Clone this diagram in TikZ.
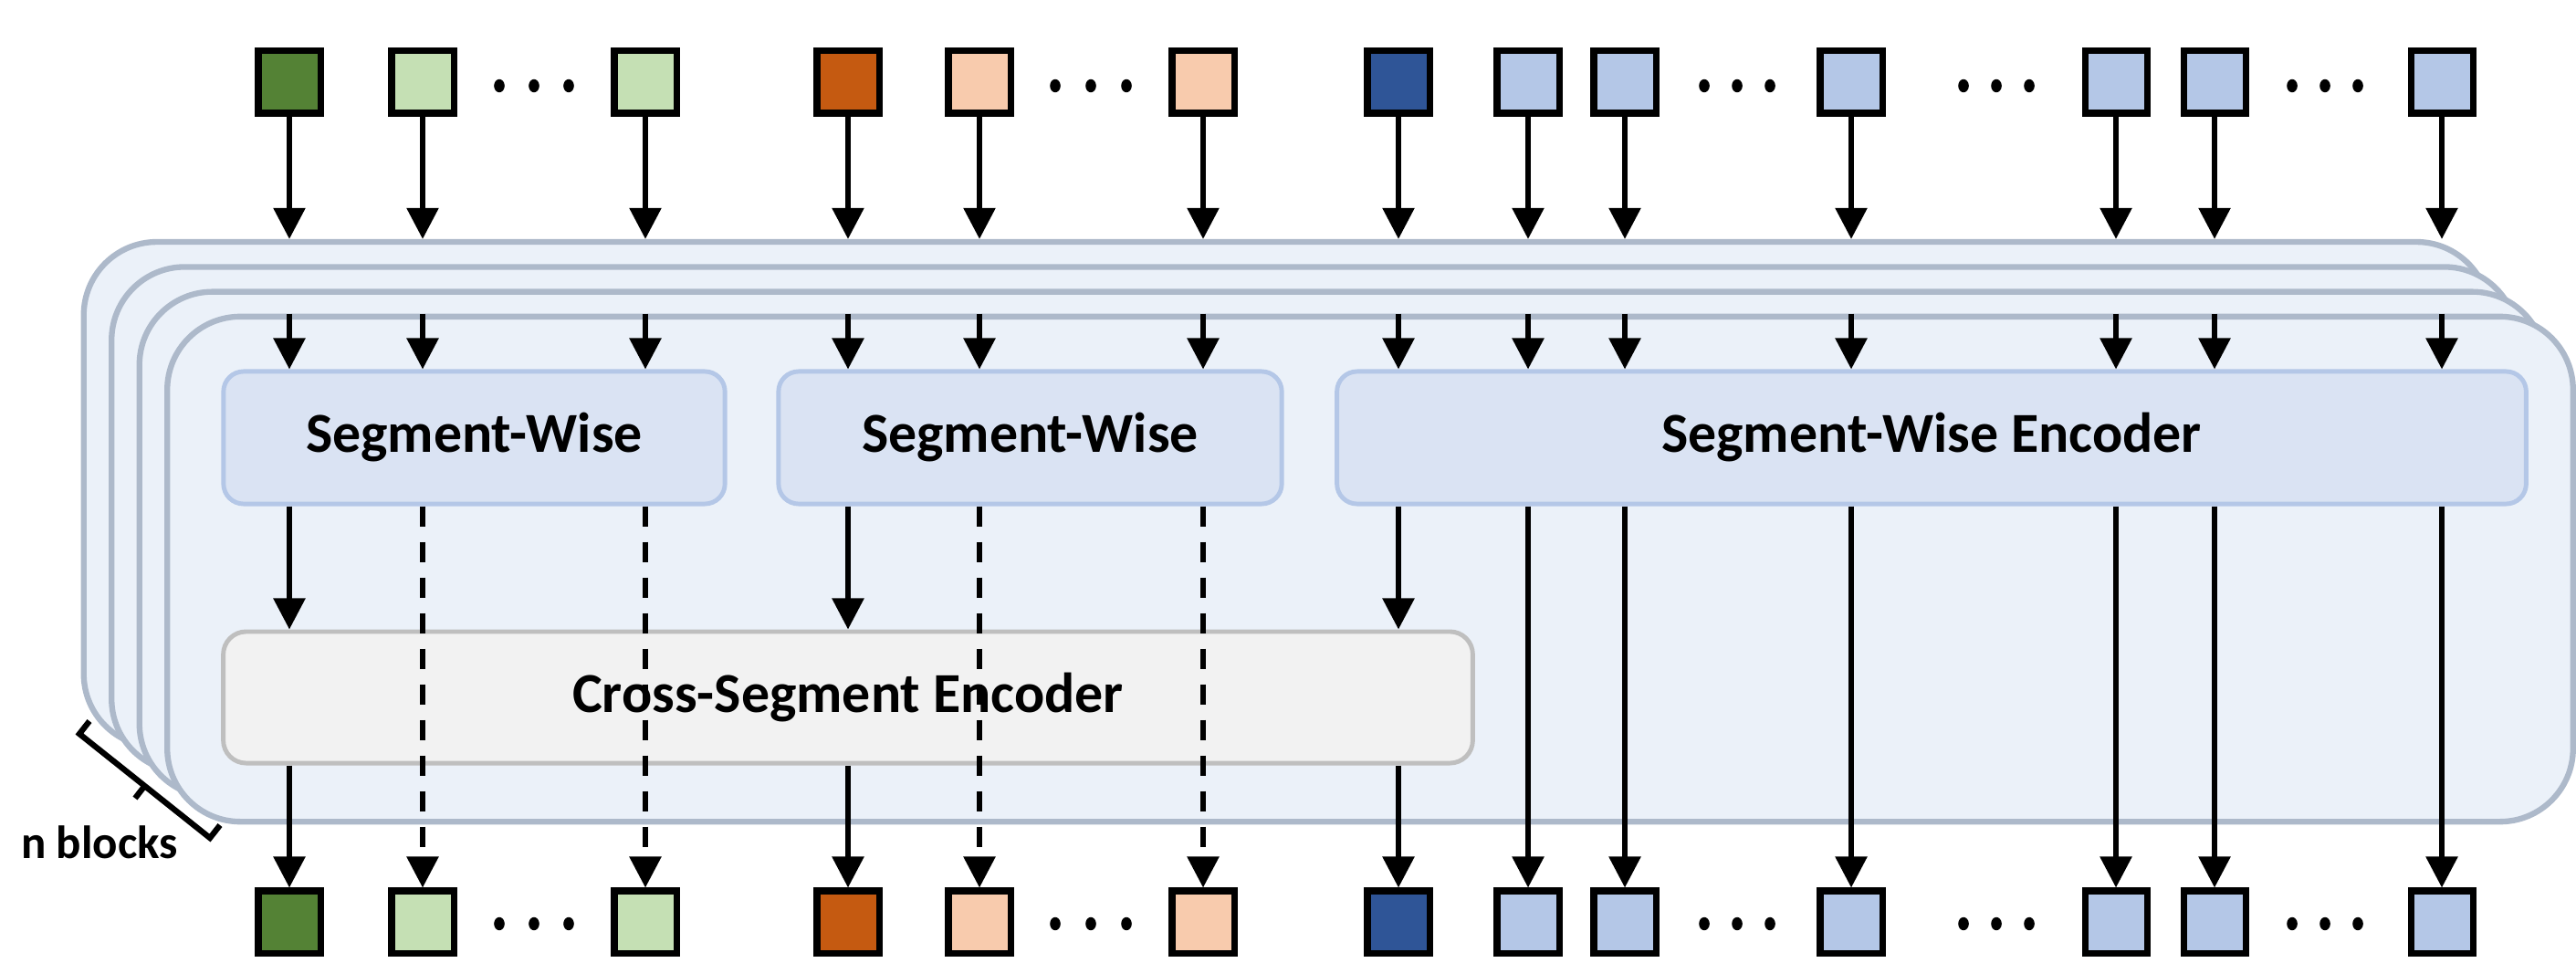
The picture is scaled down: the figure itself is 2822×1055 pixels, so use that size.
\documentclass[tikz,border=0pt]{standalone}
\usepackage{fontspec}
\setmainfont{Carlito}
\usetikzlibrary{arrows.meta}

\definecolor{panelfill}{HTML}{EBF1F9}
\definecolor{paneldraw}{HTML}{ADB9CA}
\definecolor{segfill}{HTML}{DAE3F3}
\definecolor{segdraw}{HTML}{B4C7E7}
\definecolor{crossfill}{HTML}{F2F2F2}
\definecolor{crossdraw}{HTML}{BFBFBF}
\definecolor{gdark}{HTML}{548235}
\definecolor{glight}{HTML}{C5E0B4}
\definecolor{odark}{HTML}{C55A11}
\definecolor{olight}{HTML}{F8CBAD}
\definecolor{bdark}{HTML}{2F5597}
\definecolor{blight}{HTML}{B4C7E7}

\tikzset{
  panel/.style={draw=paneldraw, fill=panelfill, line width=1.8pt,
    rounded corners=0.8cm, minimum width=26.34cm, minimum height=5.53cm, inner sep=0pt},
  segbox/.style={draw=segdraw, fill=segfill, line width=1.4pt,
    rounded corners=0.22cm, minimum height=1.45cm, inner sep=0pt,
    font=\bfseries\fontsize{17.6}{20}\selectfont},
  crossbox/.style={draw=crossdraw, fill=crossfill, line width=1.4pt,
    rounded corners=0.25cm, minimum height=1.44cm, inner sep=0pt,
    font=\bfseries\fontsize{17.6}{20}\selectfont},
  tok/.style={draw=black, line width=2pt, minimum size=0.68cm, inner sep=0pt},
  arr/.style={line width=1.6pt, -{Triangle[width=0.34cm,length=0.34cm]}},
  dsh/.style={arr, dash pattern=on 0.22cm off 0.17cm},
  dotmark/.style={fill=black},
  bracket/.style={line width=1.8pt, line join=miter}
}

\begin{document}
\begin{tikzpicture}[x=0.01cm, y=-0.01cm]
\useasboundingbox (0,0) rectangle (2822,1055);

% stacked encoder blocks, back to front
\node[panel] (P3) at (1409.5,541.7) {};
\node[panel] (P2) at (1440,569.1) {};
\node[panel] (P1) at (1470.5,596.3) {};
\node[panel] (P0) at (1501,623.5) {};

% encoders inside the front block
\node[segbox, minimum width=5.49cm] (sw1) at (519.5,479.5) {Segment-Wise};
\node[segbox, minimum width=5.51cm] (sw2) at (1128.5,479.5) {Segment-Wise};
\node[segbox, minimum width=13.02cm] (swe) at (2116,479.5) {Segment-Wise Encoder};
\node[crossbox, minimum width=13.68cm] (cs) at (929,764) {Cross-Segment Encoder};

% input and output tokens
\foreach \i/\x/\c in {1/317/gdark, 2/463/glight, 3/707/glight,
                      4/929/odark, 5/1073/olight, 6/1318/olight,
                      7/1532/bdark, 8/1674/blight, 9/1780/blight, 10/2028/blight,
                      11/2318/blight, 12/2426/blight, 13/2675/blight} {
  \node[tok, fill=\c] (t\i) at (\x,90) {};
  \node[tok, fill=\c] (b\i) at (\x,1010) {};
}

% ellipsis dots between tokens
\foreach \x in {547,585,623, 1156,1195,1234, 1867,1903,1939, 2151,2187,2223, 2511,2547,2583} {
  \fill[dotmark] (\x,94) ellipse [x radius=0.058cm, y radius=0.072cm];
  \fill[dotmark] (\x,1012) ellipse [x radius=0.058cm, y radius=0.072cm];
}

% tokens into the block stack
\foreach \i in {1,...,13}
  \draw[arr] (t\i.south) -- (t\i |- P3.north);

% block input into the segment-wise encoders
\foreach \i/\s in {1/sw1,2/sw1,3/sw1,4/sw2,5/sw2,6/sw2,
                   7/swe,8/swe,9/swe,10/swe,11/swe,12/swe,13/swe}
  \draw[arr] (t\i |- P0.north) -- (t\i |- \s.north);

% first token of each segment passes through the cross-segment encoder
\foreach \i/\s in {1/sw1,4/sw2,7/swe} {
  \draw[arr] (t\i |- \s.south) -- (t\i |- cs.north);
  \draw[arr] (t\i |- cs.south) -- (b\i.north);
}

% remaining tokens of the first two segments bypass it
\foreach \i/\s in {2/sw1,3/sw1,5/sw2,6/sw2}
  \draw[dsh] (t\i |- \s.south) -- (b\i.north);

% remaining tokens of the last segment
\foreach \i in {8,...,13}
  \draw[arr] (t\i |- swe.south) -- (b\i.north);

% bracket marking the number of blocks
\draw[bracket] (98,790) -- (87,804) -- (230,918) -- (241,904);
\draw[bracket] (158.5,861) -- (148,874.5);
\node[font=\bfseries\fontsize{14.5}{17}\selectfont, anchor=base] (nb) at (109,940) {n blocks};
\end{tikzpicture}
\end{document}
